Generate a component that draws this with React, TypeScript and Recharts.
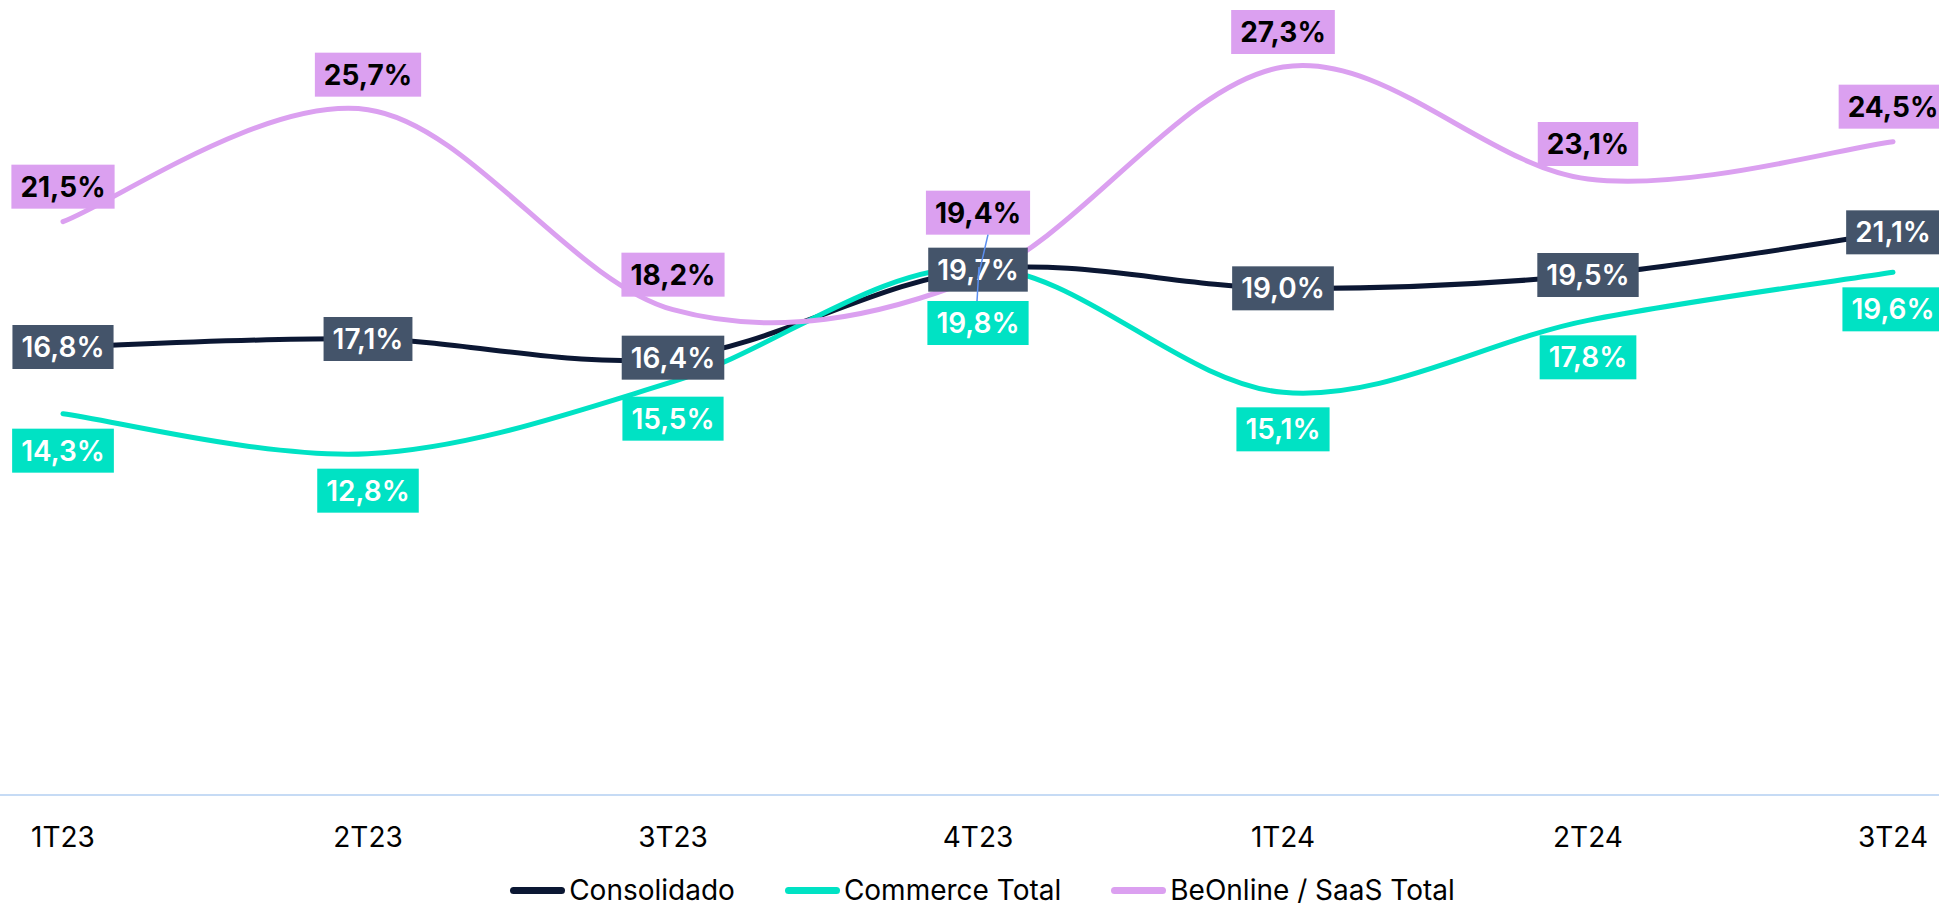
import React from 'react';
import { LineChart, Line, XAxis, YAxis, Legend, LabelList } from 'recharts';

const categories = ['1T23', '2T23', '3T23', '4T23', '1T24', '2T24', '3T24'];
const consolidado = [16.8, 17.1, 16.4, 19.7, 19.0, 19.5, 21.1];
const commerce = [14.3, 12.8, 15.5, 19.8, 15.1, 17.8, 19.6];
const beonline = [21.5, 25.7, 18.2, 19.4, 27.3, 23.1, 24.5];
const seriesNames = ['Consolidado', 'Commerce Total', 'BeOnline / SaaS Total'];
const seriesKeys = ['consolidado', 'commerce', 'beonline'];
const lineColors = ['#0b1733', '#00e2c4', '#dba0f0'];
const boxColors = ['#44546a', '#00e2c4', '#dba0f0'];
const textColors = ['#ffffff', '#ffffff', '#000000'];
const textWeights = [600, 600, 700];
const labelOffsets = [0, 37, -35];
const labelOverrides: Record<number, number>[] = [{}, { 3: 56 }, { 3: -65 }];

const data = categories.map((c, i) => ({
  cat: c,
  consolidado: consolidado[i],
  commerce: commerce[i],
  beonline: beonline[i],
}));

const FONT = 'Inter, "Noto Sans", sans-serif';
const FS = 28;

let ctx: CanvasRenderingContext2D | null = null;
function measure(text: string, weight: number) {
  if (!ctx) ctx = document.createElement('canvas').getContext('2d');
  if (!ctx) return text.length * 16;
  ctx.font = `${weight} ${FS}px Inter`;
  return ctx.measureText(text).width;
}

const fmt = (v: number) => v.toFixed(1).replace('.', ',') + '%';

// Excel-like smoothed line (cardinal / Catmull-Rom, 1/6 control points)
const smoothCurve: any = (context: any) => {
  let pts: [number, number][] = [];
  return {
    areaStart() {},
    areaEnd() {},
    lineStart() {
      pts = [];
    },
    lineEnd() {
      const n = pts.length;
      if (!n) return;
      context.moveTo(pts[0][0], pts[0][1]);
      for (let i = 0; i < n - 1; i++) {
        const p0 = pts[i - 1] || pts[i];
        const p1 = pts[i];
        const p2 = pts[i + 1];
        const p3 = pts[i + 2] || pts[i + 1];
        const c1x = p1[0] + (p2[0] - p0[0]) / 6;
        const c1y = p1[1] + (p2[1] - p0[1]) / 6;
        const c2x = p2[0] - (p3[0] - p1[0]) / 6;
        const c2y = p2[1] - (p3[1] - p1[1]) / 6;
        context.bezierCurveTo(c1x, c1y, c2x, c2y, p2[0], p2[1]);
      }
    },
    point(x: number, y: number) {
      pts.push([+x, +y]);
    },
  };
};

const makeLabel = (s: number) => (props: any) => {
  const vb = props.viewBox || {};
  const x = props.x != null ? props.x : vb.x;
  const y = props.y != null ? props.y : vb.y;
  const value = props.value;
  const index = props.index;
  if (x == null || y == null || value == null) return null;
  const text = fmt(Number(value));
  const w = measure(text, textWeights[s]) + 18;
  const h = 44;
  const off = labelOverrides[s][index] != null ? labelOverrides[s][index] : labelOffsets[s];
  const cy = y + off;
  let leader = null;
  if (labelOverrides[s][index] != null) {
    if (off < 0) {
      leader = <line x1={x + 10} y1={cy + h / 2} x2={x} y2={y} stroke="#5b8ff0" strokeWidth={1.5} />;
    } else {
      leader = <line x1={x - 1} y1={cy - h / 2} x2={x + 1} y2={y} stroke="#5b8ff0" strokeWidth={1.5} />;
    }
  }
  return (
    <g>
      <rect x={x - w / 2} y={cy - h / 2} width={w} height={h} fill={boxColors[s]} />
      {leader}
      <text
        x={x}
        y={cy + 10}
        textAnchor="middle"
        fill={textColors[s]}
        fontFamily={FONT}
        fontSize={FS}
        fontWeight={textWeights[s]}
      >
        {text}
      </text>
    </g>
  );
};

const Tick = (props: any) => (
  <text
    x={props.x}
    y={props.y + 52}
    textAnchor="middle"
    fill="#000"
    fontFamily={FONT}
    fontSize={FS}
  >
    {props.payload.value}
  </text>
);

const LegendContent = () => (
  <div
    style={{
      display: 'flex',
      justifyContent: 'center',
      alignItems: 'center',
      height: 26,
      paddingLeft: 26,
      boxSizing: 'border-box',
      fontFamily: FONT,
      fontSize: FS,
      color: '#000',
      gap: 50,
    }}
  >
    {seriesNames.map((n, i) => (
      <div key={n} style={{ display: 'flex', alignItems: 'center', gap: 4 }}>
        <div style={{ width: 55, height: 7, borderRadius: 4, background: lineColors[i] }} />
        <span style={{ lineHeight: '26px', whiteSpace: 'nowrap' }}>{n}</span>
      </div>
    ))}
  </div>
);

export default function App() {
  return (
    <div
      style={{
        position: 'absolute',
        left: 0,
        top: -5,
        width: 1939,
        height: 913,
        overflow: 'hidden',
        background: '#fff',
      }}
    >
      <LineChart width={1939} height={912} data={data} margin={{ top: 0, right: 0, bottom: 4, left: 0 }}>
        <XAxis
          dataKey="cat"
          height={82}
          padding={{ left: 63, right: 46 }}
          tickLine={false}
          tickSize={0}
          tickMargin={0}
          axisLine={{ stroke: '#c6dbf5', strokeWidth: 2 }}
          tick={<Tick />}
          interval={0}
        />
        <YAxis hide domain={[0, 30]} />
        <Legend verticalAlign="bottom" align="center" content={<LegendContent />} />
        {seriesKeys.map((k, i) => (
          <Line
            key={k}
            dataKey={k}
            name={seriesNames[i]}
            type={smoothCurve}
            stroke={lineColors[i]}
            strokeWidth={5}
            strokeLinecap="round"
            dot={false}
            activeDot={false}
            isAnimationActive={false}
            legendType="none"
          />
        ))}
        {seriesKeys.map((k, i) => (
          <Line
            key={k + '-labels'}
            dataKey={k}
            type="linear"
            stroke="none"
            strokeWidth={0}
            dot={false}
            activeDot={false}
            isAnimationActive={false}
            legendType="none"
          >
            <LabelList dataKey={k} content={makeLabel(i)} />
          </Line>
        ))}
      </LineChart>
    </div>
  );
}
